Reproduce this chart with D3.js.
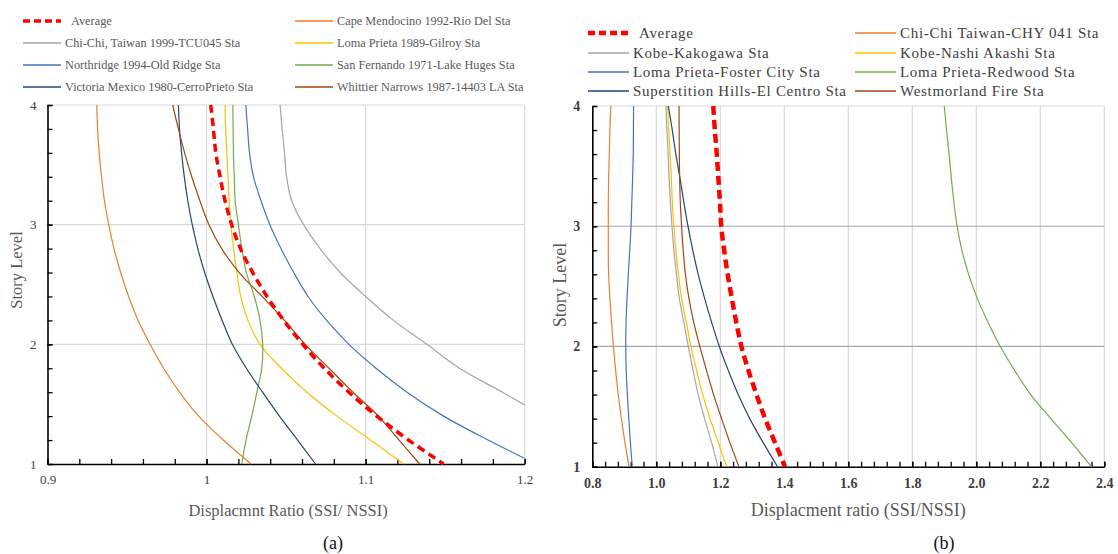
<!DOCTYPE html>
<html>
<head>
<meta charset="utf-8">
<script src="https://cdn.jsdelivr.net/npm/d3@7"></script>
<style>
    body { margin: 0; background: #fff; }
    svg text { font-family: "Liberation Serif", "Times New Roman", serif; }
</style>
</head>
<body>
<svg id="chart" width="1118" height="554"></svg>
<script>
// story levels (same for every record)
const storyLevels = [4, 3.8, 3.6, 3.4, 3.2, 3.0, 2.8, 2.6, 2.4, 2.2, 2.0, 1.8, 1.6, 1.4, 1.2, 1.0];

// ---- panel (a) ----
const namesA = ["Average", "Cape Mendocino 1992-Rio Del Sta", "Chi-Chi, Taiwan 1999-TCU045 Sta",
    "Loma Prieta 1989-Gilroy Sta", "Northridge 1994-Old Ridge Sta", "San Fernando 1971-Lake Huges Sta",
    "Victoria Mexico 1980-CerroPrieto Sta", "Whittier Narrows 1987-14403 LA Sta"];
const averageA    = [1.0026, 1.0043, 1.0058, 1.0085, 1.0116, 1.0158, 1.0213, 1.029, 1.038, 1.0485, 1.0605, 1.074, 1.0895, 1.107, 1.127, 1.149];
const capeA       = [0.931, 0.9315, 0.9325, 0.934, 0.9358, 0.9385, 0.9418, 0.946, 0.951, 0.957, 0.9645, 0.973, 0.983, 0.995, 1.0105, 1.028];
const chichiA     = [1.0462, 1.0475, 1.049, 1.0503, 1.0535, 1.061, 1.0714, 1.084, 1.100, 1.1175, 1.1385, 1.159, 1.186, 1.212, 1.235, 1.257];
const gilroyA     = [1.0116, 1.012, 1.0127, 1.0135, 1.0142, 1.0152, 1.0170, 1.019, 1.0215, 1.026, 1.0336, 1.047, 1.063, 1.082, 1.103, 1.124];
const northridgeA = [1.0247, 1.0258, 1.027, 1.0295, 1.0342, 1.0398, 1.0468, 1.0548, 1.0638, 1.0755, 1.0895, 1.1065, 1.126, 1.149, 1.177, 1.207];
const sanFernA    = [1.0165, 1.0167, 1.0169, 1.0174, 1.018, 1.020, 1.0222, 1.025, 1.030, 1.0336, 1.0353, 1.0347, 1.0316, 1.0284, 1.0248, 1.0222];
const victoriaA   = [0.9823, 0.983, 0.9843, 0.986, 0.9882, 0.991, 0.9945, 0.9988, 1.004, 1.0098, 1.0162, 1.025, 1.0352, 1.0458, 1.0572, 1.0685];
const whittierA   = [0.9787, 0.9823, 0.9862, 0.9907, 0.9958, 1.0015, 1.0095, 1.0205, 1.035, 1.049, 1.062, 1.077, 1.092, 1.108, 1.121, 1.134];
const xTicksA = [0.9, 1.0, 1.1, 1.2];

// ---- panel (b) ----
const namesB = ["Average", "Chi-Chi Taiwan-CHY 041 Sta", "Kobe-Kakogawa Sta", "Kobe-Nashi Akashi Sta",
    "Loma Prieta-Foster City Sta", "Loma Prieta-Redwood Sta", "Superstition Hills-El Centro Sta", "Westmorland Fire Sta"];
const averageB  = [1.178, 1.183, 1.189, 1.194, 1.199, 1.203, 1.212, 1.223, 1.236, 1.250, 1.266, 1.288, 1.313, 1.340, 1.371, 1.402];
const chichiB   = [0.858, 0.855, 0.853, 0.851, 0.850, 0.850, 0.850, 0.851, 0.855, 0.860, 0.866, 0.873, 0.881, 0.891, 0.902, 0.915];
const kakogawaB = [1.030, 1.033, 1.037, 1.040, 1.044, 1.049, 1.055, 1.063, 1.072, 1.086, 1.100, 1.115, 1.131, 1.151, 1.173, 1.192];
const nashiB    = [1.0355, 1.039, 1.043, 1.047, 1.050, 1.055, 1.061, 1.069, 1.079, 1.094, 1.108, 1.126, 1.145, 1.168, 1.194, 1.220];
const fosterB   = [0.929, 0.9285, 0.928, 0.926, 0.9235, 0.921, 0.917, 0.9125, 0.9085, 0.9055, 0.9045, 0.906, 0.9095, 0.914, 0.919, 0.925];
const redwoodB  = [1.90, 1.907, 1.915, 1.922, 1.93, 1.94, 1.955, 1.976, 2.003, 2.037, 2.075, 2.12, 2.17, 2.233, 2.298, 2.36];
const superB    = [1.0375, 1.050, 1.061, 1.074, 1.086, 1.099, 1.114, 1.131, 1.151, 1.173, 1.197, 1.225, 1.256, 1.292, 1.334, 1.379];
const westB     = [1.071, 1.0715, 1.072, 1.073, 1.075, 1.079, 1.084, 1.091, 1.102, 1.117, 1.136, 1.157, 1.179, 1.204, 1.230, 1.258];
const xTicksB = [0.8, 1.0, 1.2, 1.4, 1.6, 1.8, 2.0, 2.2, 2.4];

const yTicks = [1, 2, 3, 4];

// excel-like palette, same order in both panels
const palette = ["#ff0000", "#ed7d31", "#a5a5a5", "#ffc000", "#4472c4", "#70ad47", "#264478", "#9e480e"];

class StoryChart {
    constructor(svg, opts, names, series) {
        this.svg = svg;
        this.opts = opts;
        this.names = names;
        this.series = series;

        this.initVis();
    }

    initVis() {
        let vis = this;
        let o = vis.opts;

        vis.g = vis.svg.append("g");

        vis.x = d3.scaleLinear().domain([o.xTicks[0], o.xTicks[o.xTicks.length - 1]]).range([o.left, o.right]);
        vis.y = d3.scaleLinear().domain([1, 4]).range([o.bottom, o.top]);

        vis.g.append("clipPath").attr("id", o.id + "-clip")
            .append("rect")
            .attr("x", o.left).attr("y", o.top - 4)
            .attr("width", o.right - o.left).attr("height", o.bottom - o.top + 8);

        // gridlines
        vis.g.append("g").selectAll("line")
            .data(o.xTicks.slice(1))
            .join("line")
            .attr("x1", d => vis.x(d)).attr("x2", d => vis.x(d))
            .attr("y1", o.top).attr("y2", o.bottom)
            .attr("stroke", o.vGrid).attr("stroke-width", 1.2);
        vis.g.append("g").selectAll("line")
            .data(yTicks.slice(1))
            .join("line")
            .attr("x1", o.left).attr("x2", o.right)
            .attr("y1", d => vis.y(d)).attr("y2", d => vis.y(d))
            .attr("stroke", d => d === 4 ? o.vGrid : o.hGrid).attr("stroke-width", 1.2);

        // minor ticks (inside)
        let x0 = o.xTicks[0], x1 = o.xTicks[o.xTicks.length - 1];
        let xMinor = d3.range(Math.round((x1 - x0) / o.xMinorStep) + 1).map(i => x0 + i * o.xMinorStep);
        let yMinor = d3.range(16).map(i => 1 + i * 0.2);

        vis.g.append("g")
            .attr("transform", `translate(0, ${o.bottom})`)
            .call(d3.axisBottom(vis.x).tickValues(xMinor).tickSizeInner(-5).tickSizeOuter(0).tickFormat(""))
            .call(g => g.selectAll("line").attr("stroke", "#000").attr("stroke-width", 1.3))
            .call(g => g.select(".domain").remove());
        vis.g.append("g")
            .attr("transform", `translate(${o.left}, 0)`)
            .call(d3.axisLeft(vis.y).tickValues(yMinor).tickSizeInner(-5).tickSizeOuter(0).tickFormat(""))
            .call(g => g.selectAll("line").attr("stroke", "#000").attr("stroke-width", 1.3))
            .call(g => g.select(".domain").remove());

        // labelled axes
        vis.xAxisGroup = vis.g.append("g")
            .attr("transform", `translate(0, ${o.bottom})`)
            .call(d3.axisBottom(vis.x).tickValues(o.xTicks).tickSizeInner(-5).tickSizeOuter(0)
                .tickPadding(11).tickFormat(o.xFormat));
        vis.yAxisGroup = vis.g.append("g")
            .attr("transform", `translate(${o.left}, 0)`)
            .call(d3.axisLeft(vis.y).tickValues(yTicks).tickSizeInner(-5).tickSizeOuter(0)
                .tickPadding(o.yPad).tickFormat(d3.format("d")));
        [vis.xAxisGroup, vis.yAxisGroup].forEach(ax => {
            ax.select(".domain").attr("stroke", "#000").attr("stroke-width", 1.6);
            ax.selectAll("line").attr("stroke", "#000").attr("stroke-width", 1.3);
            ax.selectAll("text")
                .style("font-family", '"Liberation Serif", serif')
                .style("font-size", o.tickFont + "px")
                .style("font-weight", o.tickWeight)
                .attr("fill", o.tickColor);
        });

        // axis titles
        vis.g.append("text")
            .attr("x", (o.left + o.right) / 2 + o.xTitleShift)
            .attr("y", 516)
            .attr("text-anchor", "middle")
            .attr("fill", "#595959")
            .style("font-size", o.titleFont + "px")
            .text(o.xTitle);
        vis.g.append("text")
            .attr("transform", `translate(${o.yTitleX}, ${o.yTitleY}) rotate(-90)`)
            .attr("text-anchor", "middle")
            .attr("fill", "#595959")
            .style("font-size", o.titleFont + "px")
            .text("Story  Level");

        // caption
        vis.g.append("text")
            .attr("x", o.captionX).attr("y", 549)
            .attr("text-anchor", "middle")
            .attr("fill", "#111")
            .style("font-size", "18px")
            .text(o.caption);

        vis.wrangleData();
    }

    wrangleData() {
        let vis = this;

        vis.displayData = vis.series.map((vals, i) => ({
            name: vis.names[i],
            color: palette[i],
            points: vals.map((v, j) => ({ratio: v, story: storyLevels[j]}))
        }));

        vis.updateVis();
    }

    updateVis() {
        let vis = this;
        let o = vis.opts;

        let line = d3.line()
            .x(d => vis.x(d.ratio))
            .y(d => vis.y(d.story))
            .curve(d3.curveCatmullRom.alpha(0.5));

        // draw the average last so it sits on top
        let order = vis.displayData.slice(1).concat(vis.displayData.slice(0, 1));

        vis.g.append("g")
            .attr("clip-path", `url(#${o.id}-clip)`)
            .selectAll(".series")
            .data(order)
            .join("path")
            .attr("class", "series")
            .attr("fill", "none")
            .attr("stroke", d => d.color)
            .attr("stroke-width", d => d.name === "Average" ? o.avgWidth : 1.2)
            .attr("stroke-dasharray", d => d.name === "Average" ? o.avgDash : null)
            .attr("d", d => line(d.points));

        // legend, two columns
        let lg = vis.g.append("g");
        let items = lg.selectAll(".legend-item")
            .data(vis.displayData)
            .join("g")
            .attr("class", "legend-item")
            .attr("transform", (d, i) => `translate(${o.legendCols[i % 2]}, ${o.legendRows[Math.floor(i / 2)]})`);
        items.append("line")
            .attr("x1", 0).attr("x2", o.legendLine)
            .attr("stroke", d => d.color)
            .attr("stroke-width", d => d.name === "Average" ? o.avgWidth : 1.3)
            .attr("stroke-dasharray", d => d.name === "Average" ? "7,4" : null);
        items.append("text")
            .attr("x", (d, i) => o.legendLine + (i === 0 ? o.legendGap + 6 : o.legendGap))
            .attr("dy", "0.35em")
            .attr("fill", o.legendColor)
            .style("font-size", o.legendFont + "px")
            .style("letter-spacing", o.legendSpacing + "px")
            .text(d => d.name);
    }
}

let svg = d3.select("#chart");

new StoryChart(svg, {
    id: "pa", left: 47.5, right: 524.7, top: 105, bottom: 464,
    xTicks: xTicksA, xMinorStep: 0.02, xFormat: d3.format(""),
    vGrid: "#d9d9d9", hGrid: "#d9d9d9",
    tickFont: 13, tickWeight: "normal", tickColor: "#404040", yPad: 11,
    xTitle: "Displacmnt Ratio (SSI/ NSSI)", xTitleShift: 2, titleFont: 16.5,
    yTitleX: 22, yTitleY: 270,
    caption: "(a)", captionX: 333,
    avgWidth: 3.5, avgDash: "8,5",
    legendCols: [23, 295], legendRows: [21, 43, 65, 87], legendLine: 38, legendGap: 4,
    legendFont: 12.3, legendSpacing: 0, legendColor: "#595959"
}, namesA, [averageA, capeA, chichiA, gilroyA, northridgeA, sanFernA, victoriaA, whittierA]);

new StoryChart(svg, {
    id: "pb", left: 592.3, right: 1104.3, top: 106, bottom: 466.7,
    xTicks: xTicksB, xMinorStep: 0.04, xFormat: d3.format(".1f"),
    vGrid: "#d9d9d9", hGrid: "#a6a6a6",
    tickFont: 14, tickWeight: "bold", tickColor: "#404040", yPad: 12,
    xTitle: "Displacment ratio (SSI/NSSI)", xTitleShift: 10, titleFont: 18,
    yTitleX: 566, yTitleY: 285,
    caption: "(b)", captionX: 944,
    avgWidth: 4.5, avgDash: "9,5",
    legendCols: [588, 855], legendRows: [33, 53, 72, 91], legendLine: 41, legendGap: 4,
    legendFont: 15, legendSpacing: 0.7, legendColor: "#404040"
}, namesB, [averageB, chichiB, kakogawaB, nashiB, fosterB, redwoodB, superB, westB]);
</script>
</body>
</html>
